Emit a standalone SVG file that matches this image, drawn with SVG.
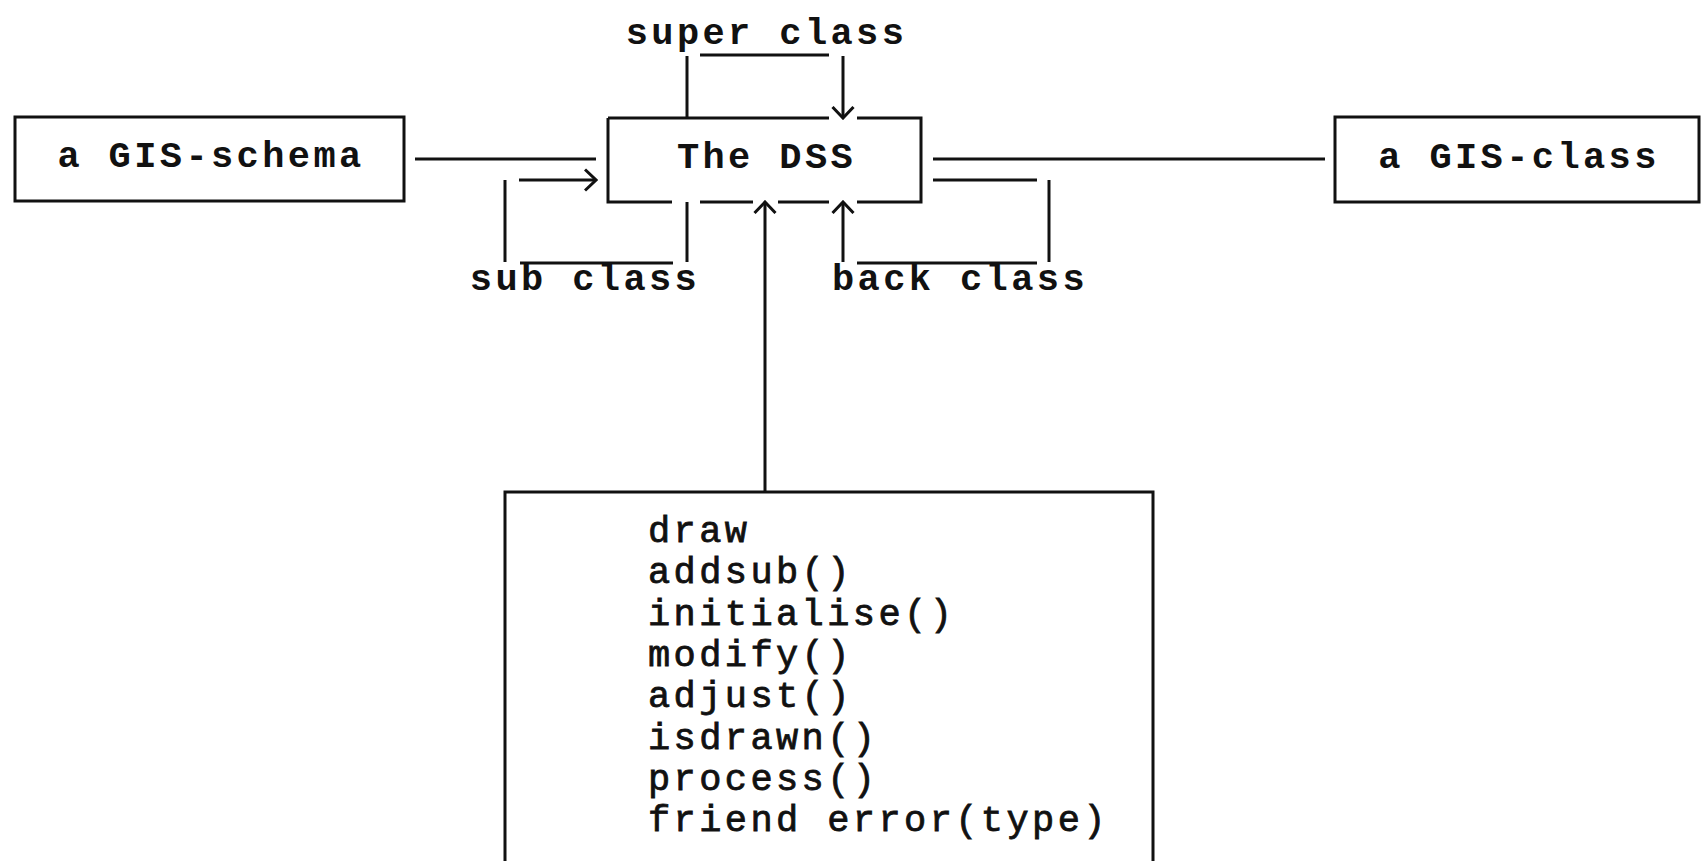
<svg xmlns="http://www.w3.org/2000/svg" width="1702" height="861" viewBox="0 0 1702 861">
  <defs>
    <!-- open V arrowhead used on every directed connector -->
    <marker id="arrow" viewBox="0 0 14 24" refX="12" refY="12" markerWidth="14" markerHeight="24" markerUnits="userSpaceOnUse" orient="auto">
      <path d="M1,1.5 L12,12 L1,22.5" fill="none" stroke="#111" stroke-width="3"/>
    </marker>
  </defs>
  <style>
    .box { fill: none; stroke: #111; stroke-width: 3; }
    .edge { fill: none; stroke: #111; stroke-width: 3; }
    .label { font-family: "Liberation Mono", "Courier New", monospace; font-size: 37px; letter-spacing: 3.4px; font-weight: bold; fill: #111; text-anchor: middle; }
    .member { font-family: "Liberation Mono", "Courier New", monospace; font-size: 37px; letter-spacing: 3.4px; fill: #111; stroke: #111; stroke-width: 0.8; }
  </style>
  <rect width="1702" height="861" fill="#fff"/>

  <!-- schema node -->
  <g id="gis-schema">
    <rect class="box" x="15" y="117" width="389" height="84"/>
    <text class="label" x="211" y="167">a GIS-schema</text>
  </g>

  <!-- central DSS node; its outline is broken where connectors meet it -->
  <g id="dss">
    <path class="box" d="M608,118 H829 M857,118 H921 V202 H857 M829,202 H778 M753,202 H700 M672,202 H608 V118"/>
    <text class="label" x="766.5" y="168">The DSS</text>
  </g>

  <!-- class node -->
  <g id="gis-class">
    <rect class="box" x="1335" y="117" width="364" height="85"/>
    <text class="label" x="1519" y="168">a GIS-class</text>
  </g>

  <!-- member list, running off the bottom of the page -->
  <g id="members">
    <path class="box" d="M505,880 V492 H1153 V880"/>
    <text class="member" x="648" y="542">draw</text>
    <text class="member" x="648" y="583.3">addsub()</text>
    <text class="member" x="648" y="624.6">initialise()</text>
    <text class="member" x="648" y="665.9">modify()</text>
    <text class="member" x="648" y="707.2">adjust()</text>
    <text class="member" x="648" y="748.5">isdrawn()</text>
    <text class="member" x="648" y="789.8">process()</text>
    <text class="member" x="648" y="831">friend error(type)</text>
  </g>

  <g id="connectors">
    <!-- schema to DSS -->
    <path class="edge" d="M415,159 H596"/>
    <!-- DSS to class -->
    <path class="edge" d="M933,159 H1325"/>
    <!-- super class loop -->
    <path class="edge" d="M687,118 V56"/>
    <path class="edge" d="M700,55 H829"/>
    <path class="edge" d="M843,56 V118" marker-end="url(#arrow)"/>
    <!-- sub class loop -->
    <path class="edge" d="M687,202 V262"/>
    <path class="edge" d="M673,263 H520"/>
    <path class="edge" d="M505,262 V180"/>
    <path class="edge" d="M519,180 H596" marker-end="url(#arrow)"/>
    <!-- back class loop -->
    <path class="edge" d="M933,180 H1037"/>
    <path class="edge" d="M1049,180 V262"/>
    <path class="edge" d="M1037,263 H857"/>
    <path class="edge" d="M843,262 V202" marker-end="url(#arrow)"/>
    <!-- member list to DSS -->
    <path class="edge" d="M765,492 V202" marker-end="url(#arrow)"/>
  </g>

  <g id="connector-labels">
    <text class="label" x="766.5" y="44">super class</text>
    <text class="label" x="585" y="290">sub class</text>
    <text class="label" x="960" y="290">back class</text>
  </g>
</svg>
